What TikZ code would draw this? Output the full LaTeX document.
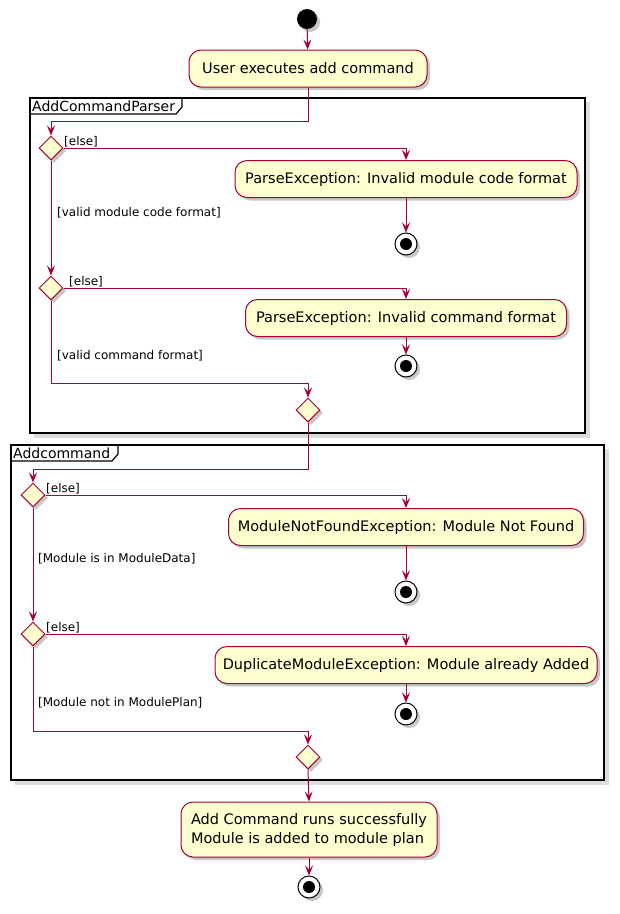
\documentclass[tikz,border=0pt]{standalone}
\usepackage{fontspec}
\setmainfont{DejaVu Sans}
\usetikzlibrary{arrows.meta,shapes.geometric,shadows}
\definecolor{pred}{HTML}{A80036}
\definecolor{pfill}{HTML}{FEFECE}
\definecolor{pshadow}{HTML}{DCDCDC}
\begin{document}
\begin{tikzpicture}[x=1pt,y=-1pt,
  flow/.style={draw=pred, line width=1pt, -{Stealth[length=10pt,width=8pt,inset=4pt]}},
  shad/.style={drop shadow={shadow xshift=3pt, shadow yshift=-3pt, fill=black, opacity=0.22}},
  act/.style={draw=pred, fill=pfill, line width=1pt, rounded corners=12pt, minimum height=37pt, inner sep=0pt, font=\fontsize{14.5}{19}\selectfont, shad},
  dec/.style={diamond, aspect=1, draw=pred, fill=pfill, line width=1pt, minimum width=24pt, minimum height=24pt, inner sep=0pt, shad},
  startnode/.style={circle, fill=black, minimum size=20pt, inner sep=0pt, shad},
  endnode/.style={circle, draw=black, fill=white, line width=1pt, minimum size=22pt, inner sep=0pt, shad,
    path picture={\fill[black] (path picture bounding box.center) circle (6pt);}},
  guard/.style={font=\fontsize{12}{14}\selectfont, inner sep=1pt, text=black},
  framelab/.style={font=\fontsize{14}{16}\selectfont, inner sep=0pt, anchor=west},
  frameline/.style={draw=black, line width=1.2pt}
]
\useasboundingbox (0,0) rectangle (620,914);

% frames
\fill[pshadow] (34,102) rectangle (590,438);
\draw[frameline, fill=white] (30,98) rectangle (585,433);
\draw[frameline] (30,114) -- (176,114) -- (182,107) -- (182,98);
\node[framelab] (f1) at (32,106) {AddCommandParser};

\fill[pshadow] (15,449) rectangle (609,785);
\draw[frameline, fill=white] (11,445) rectangle (604,780);
\draw[frameline] (11,461) -- (112,461) -- (118,454) -- (118,445);
\node[framelab] (f2) at (13,453) {Addcommand};

% nodes
\node[startnode] (start) at (307,19) {};
\node[act, minimum width=238pt] (a1) at (308,68.5) {User executes add command};

\node[dec] (d1) at (51,148) {};
\node[act, minimum width=342pt] (b2) at (406,179) {ParseException: Invalid module code format};
\node[endnode] (e2) at (406,244) {};
\node[dec] (d2) at (51,288) {};
\node[act, minimum width=321pt] (b3) at (406,318) {ParseException: Invalid command format};
\node[endnode] (e3) at (406,366) {};
\node[dec] (d3) at (308,410) {};

\node[dec] (d4) at (33,495) {};
\node[act, minimum width=355pt] (b4) at (406,527) {ModuleNotFoundException: Module Not Found};
\node[endnode] (e4) at (406,592) {};
\node[dec] (d5) at (33,634) {};
\node[act, minimum width=382pt] (b5) at (406,665) {DuplicateModuleException: Module already Added};
\node[endnode] (e5) at (406,714) {};
\node[dec] (d6) at (308,757) {};

\node[act, minimum width=256pt, minimum height=55pt, align=left] (a6) at (309,829.5) {Add Command runs successfully\\Module is added to module plan};
\node[endnode] (e6) at (309,887) {};

% junction points
\coordinate (j1) at (308,121);
\coordinate (j2) at (308,383);
\coordinate (j3) at (308,469);
\coordinate (j4) at (308,731);

% connectors
\draw[flow] (start) -- (a1);
\draw[flow] (a1.south) -- (j1) -| (d1.north);
\draw[flow] (d1.east) -| (b2.north);
\draw[flow] (b2) -- (e2);
\draw[flow] (d1.south) -- (d2.north);
\draw[flow] (d2.east) -| (b3.north);
\draw[flow] (b3) -- (e3);
\draw[flow] (d2.south) |- (j2) -- (d3.north);
\draw[flow] (d3.south) -- (j3) -| (d4.north);
\draw[flow] (d4.east) -| (b4.north);
\draw[flow] (b4) -- (e4);
\draw[flow] (d4.south) -- (d5.north);
\draw[flow] (d5.east) -| (b5.north);
\draw[flow] (b5) -- (e5);
\draw[flow] (d5.south) |- (j4) -- (d6.north);
\draw[flow] (d6.south) -- (a6.north);
\draw[flow] (a6) -- (e6);

% guards
\node[guard, anchor=south west] (g1) at (63,148) {[else]};
\node[guard, anchor=west] (g2) at (56,213) {[valid module code format]};
\node[guard, anchor=south west] (g3) at (68,288) {[else]};
\node[guard, anchor=west] (g4) at (56,356) {[valid command format]};
\node[guard, anchor=south west] (g5) at (45,495) {[else]};
\node[guard, anchor=west] (g6) at (37,559) {[Module is in ModuleData]};
\node[guard, anchor=south west] (g7) at (45,634) {[else]};
\node[guard, anchor=west] (g8) at (37,703) {[Module not in ModulePlan]};
\end{tikzpicture}
\end{document}
